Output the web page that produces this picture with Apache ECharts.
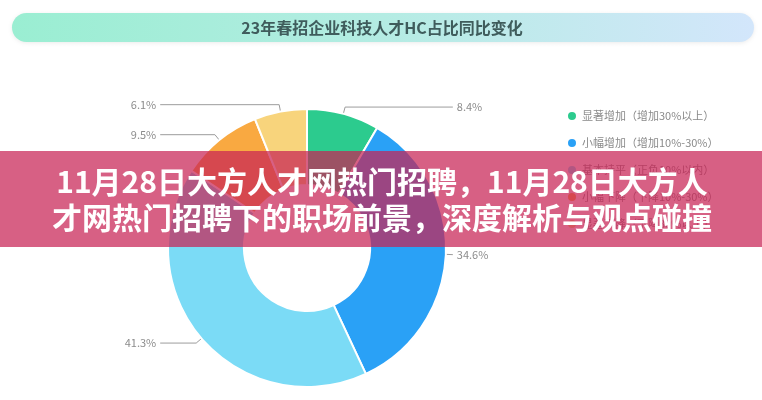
<!DOCTYPE html>
<html>
<head>
<meta charset="utf-8">
<script src="https://cdn.jsdelivr.net/npm/echarts@6/dist/echarts.min.js"></script>
<style>
  html, body { margin: 0; padding: 0; background: #ffffff; }
  #chart { width: 762px; height: 400px; }
</style>
</head>
<body>
<div id="chart"></div>
<script>
// Chart text and values
const chartTitle = '23年春招企业科技人才HC占比同比变化';
const categories = [
  '显著增加（增加30%以上）',
  '小幅增加（增加10%-30%）',
  '基本持平（正负10%以内）',
  '小幅下降（下降10%-30%）',
  '显著下降（下降30%以上）'
];
const shares = [8.4, 34.6, 41.3, 9.5, 6.1];
const headlineLines = [
  '11月28日大方人才网热门招聘，11月28日大方人',
  '才网热门招聘下的职场前景，深度解析与观点碰撞'
];

// Styling per slice
const sliceColors = ['#2ccb8e', '#2aa1f6', '#7bdbf6', '#f9a941', '#f8d47c'];
const leaderTail = [0, 0, 36, 0, 0];

const FONT = '"Noto Sans CJK SC", "Noto Sans", sans-serif';

const chart = echarts.init(document.getElementById('chart'), null, { renderer: 'canvas' });

const pieData = categories.map((name, i) => ({
  name: name,
  value: shares[i],
  itemStyle: { color: sliceColors[i] },
  labelLine: { length2: leaderTail[i] }
}));

chart.setOption({
  animation: false,
  backgroundColor: '#ffffff',
  textStyle: { fontFamily: FONT },
  legend: {
    orient: 'vertical',
    left: 561,
    top: 105,
    icon: 'circle',
    itemWidth: 10,
    itemHeight: 10,
    itemGap: 15,
    itemTextGap: 14,
    selectedMode: false,
    textStyle: { color: '#8a8a8a', fontSize: 11, fontFamily: FONT },
    data: categories
  },
  series: [{
    type: 'pie',
    center: [307, 248],
    radius: [63, 139],
    startAngle: 90,
    clockwise: true,
    itemStyle: { borderColor: '#ffffff', borderWidth: 2 },
    label: {
      show: true,
      position: 'outer',
      alignTo: 'labelLine',
      distanceToLabelLine: 4,
      formatter: p => p.value + '%',
      color: '#8c8c8c',
      fontSize: 11,
      fontFamily: FONT
    },
    labelLine: {
      show: true,
      length: 7,
      length2: 0,
      lineStyle: { color: '#9c9c9c', width: 1 }
    },
    emphasis: { disabled: true },
    data: pieData
  }],
  graphic: [
    {
      type: 'rect',
      z: 10,
      shape: { x: 12, y: 13, width: 742, height: 29, r: 14.5 },
      style: {
        fill: new echarts.graphic.LinearGradient(0, 0, 1, 0, [
          { offset: 0, color: '#9aeed2' },
          { offset: 0.5, color: '#b4ece3' },
          { offset: 1, color: '#d3e6fb' }
        ]),
        shadowBlur: 4,
        shadowOffsetY: 1,
        shadowColor: 'rgba(0,0,0,0.08)'
      }
    },
    {
      type: 'text',
      z: 11,
      x: 382,
      y: 28,
      style: {
        text: chartTitle,
        fill: '#3f5c5c',
        fontSize: 16,
        fontWeight: 'bold',
        fontFamily: FONT,
        align: 'center',
        verticalAlign: 'middle'
      }
    },
    {
      type: 'rect',
      z: 100,
      shape: { x: 0, y: 151, width: 762, height: 96 },
      style: { fill: 'rgba(200,35,85,0.72)' }
    },
    {
      type: 'text',
      z: 101,
      x: 382,
      y: 200,
      style: {
        text: headlineLines.join('\n'),
        fill: '#ffffff',
        fontSize: 30,
        fontWeight: 'bold',
        fontFamily: FONT,
        lineHeight: 36,
        align: 'center',
        verticalAlign: 'middle'
      }
    }
  ]
});
</script>
</body>
</html>
